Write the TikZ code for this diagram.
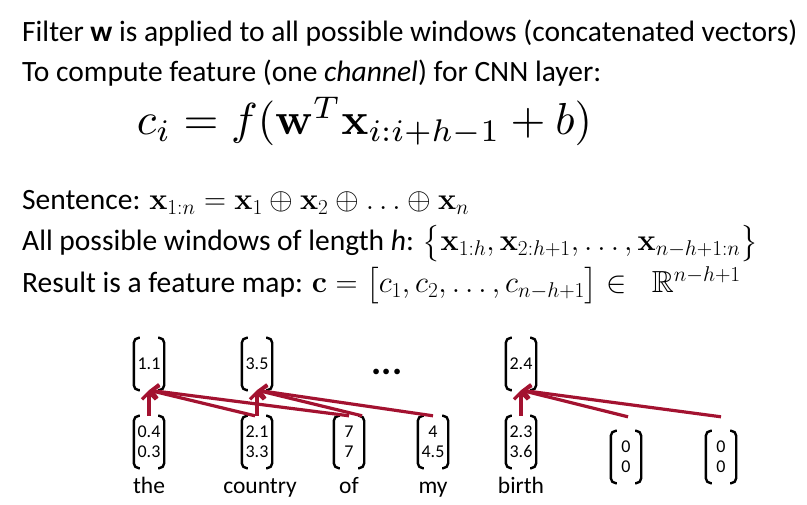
\RequirePackage{fix-cm}
\documentclass[tikz,border=0pt]{standalone}
\usepackage{amsmath,amssymb}
\usepackage[no-math]{fontspec}
\setmainfont{Carlito}
\usetikzlibrary{arrows.meta,positioning}
\definecolor{arrowred}{RGB}{163,18,48}
\newcommand{\mathsz}{\fontsize{30.5}{35}\selectfont}
\tikzset{
  txt/.style={anchor=base west, inner sep=0pt, font=\fontsize{29.5}{35}\selectfont},
  vec/.style={minimum width=30pt, minimum height=52pt, inner sep=0pt, align=center, font=\fontsize{18}{20}\selectfont},
  word/.style={inner sep=0pt, text height=17pt, text depth=5pt, font=\fontsize{23.5}{28}\selectfont},
  brk/.style={line width=2.4pt, rounded corners=5pt},
  flow/.style={-{Straight Barb[length=7pt,width=14pt]}, line width=3.2pt, draw=arrowred}
}

\begin{document}
\begin{tikzpicture}[x=1pt, y=-1pt, node distance=8pt]
  \useasboundingbox (0,0) rectangle (807,505);

  \node[txt] (filter) at (22,42) {Filter \textbf{w} is applied to all possible windows (concatenated vectors)};
  \node[txt] (compute) at (22,82) {To compute feature (one \textit{channel}) for CNN layer:};
  \node[anchor=base, inner sep=0pt] (formula) at (364.5,135) {\resizebox{455pt}{!}{$c_i = f(\mathbf{w}^T\mathbf{x}_{i:i+h-1}+b)$}};
  \node[txt] (sentence) at (22,210) {Sentence: {\mathsz$\mathbf{x}_{1:n} = \mathbf{x}_1 \oplus \mathbf{x}_2 \oplus \ldots \oplus \mathbf{x}_n$}};
  \node[txt] (windows) at (22,251) {All possible windows of length \textit{h}: {\mathsz$\big\{\mathbf{x}_{1:h}, \mathbf{x}_{2:h+1}, \ldots, \mathbf{x}_{n-h+1:n}\big\}$}};
  \node[txt] (result) at (22,293) {Result is a feature map: {\mathsz$\mathbf{c} = \big[c_1, c_2, \ldots, c_{n-h+1}\big] \in\;\; \mathbb{R}^{n-h+1}$}};

  \node[vec] (o1) at (149,364) {1.1};
  \node[vec] (o2) at (257,364) {3.5};
  \node[vec] (o3) at (521,364) {2.4};
  \node[font=\fontsize{38}{40}\selectfont\bfseries] (dots) at (387,372) {...};

  \node[vec] (w1) at (149,442) {0.4\\0.3};
  \node[vec] (w2) at (257,442) {2.1\\3.3};
  \node[vec] (w3) at (349,442) {7\\7};
  \node[vec] (w4) at (433,442) {4\\4.5};
  \node[vec] (w5) at (521,442) {2.3\\3.6};
  \node[vec] (p1) at (626,457) {0\\0};
  \node[vec] (p2) at (721,457) {0\\0};

  \node[word, below=of w1] (l1) {the};
  \node[word, below=of w2, xshift=3pt] (l2) {country};
  \node[word, below=of w3] (l3) {of};
  \node[word, below=of w4] (l4) {my};
  \node[word, below=of w5] (l5) {birth};

  \foreach \v in {o1,o2,o3,w1,w2,w3,w4,w5,p1,p2}{
    \draw[brk] ([xshift=6pt]\v.north west) -- (\v.north west) -- (\v.south west) -- ([xshift=6pt]\v.south west);
    \draw[brk] ([xshift=-6pt]\v.north east) -- (\v.north east) -- (\v.south east) -- ([xshift=-6pt]\v.south east);
  }

  \coordinate (q1) at ([xshift=2pt,yshift=14pt]p1.north);
  \coordinate (q2) at ([yshift=14pt]p2.north);

  \draw[flow] (w1.north) -- (o1.south);
  \draw[flow] ([xshift=-2pt]w2.north) -- (o1.south);
  \draw[flow] (w3.north) -- (o1.south);
  \draw[flow] (w2.north) -- (o2.south);
  \draw[flow] ([xshift=13pt]w3.north) -- (o2.south);
  \draw[flow] (w4.north) -- (o2.south);
  \draw[flow] (w5.north) -- (o3.south);
  \draw[flow] (q1) -- (o3.south);
  \draw[flow] (q2) -- (o3.south);
\end{tikzpicture}
\end{document}
